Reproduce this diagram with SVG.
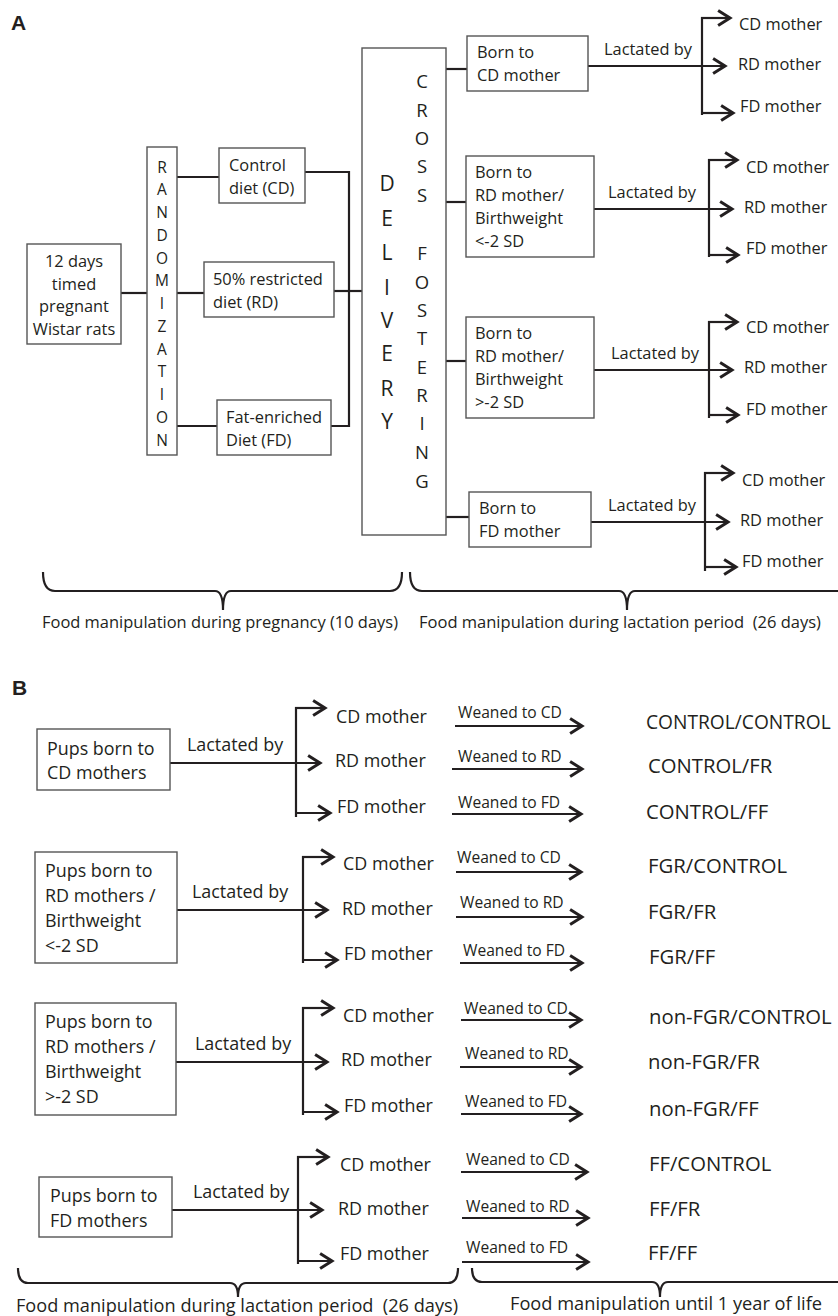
<svg xmlns="http://www.w3.org/2000/svg" width="838" height="1316" viewBox="0 0 838 1316">
<defs>
<marker id="ah" markerUnits="userSpaceOnUse" markerWidth="20" markerHeight="20" refX="0" refY="0" orient="auto" overflow="visible" viewBox="-12 -8 14 16">
<path d="M-9.5,-6 L0,0 L-9.5,6" fill="none" stroke="#231f20" stroke-width="2.4" stroke-linejoin="miter"/>
</marker>
<style>
.bx{fill:#fff;stroke:#555;stroke-width:1.4}
.ln{fill:none;stroke:#231f20;stroke-width:2.2}
.ar{fill:none;stroke:#231f20;stroke-width:2.2;marker-end:url(#ah)}
.br{fill:none;stroke:#231f20;stroke-width:2.2}
text{font-family:"Open Sans","Liberation Sans",sans-serif;fill:#231f20}
.a{font-size:16.4px}
.b{font-size:17.9px}
.w{font-size:15.6px}
.r{font-size:20.3px}
.lt{font-family:"Liberation Sans",Arial,sans-serif;font-weight:bold;font-size:21px}
.v1{font-size:15.5px;text-anchor:middle}
.v2{font-size:21px;text-anchor:middle}
.v3{font-size:18.5px;text-anchor:middle}
.c{text-anchor:middle}
</style>
</defs>

<text class="lt" x="11" y="30">A</text>
<text class="lt" x="12" y="695">B</text>

<g id="connectors">
<!-- Panel A left -->
<path class="ln" d="M121,293 H147"/>
<path class="ln" d="M177,177 H219"/>
<path class="ln" d="M177,293 H204"/>
<path class="ln" d="M177,426 H217"/>
<path class="ln" d="M305,172 H349 V426 H331"/>
<path class="ln" d="M334,291 H362"/>
<!-- delivery to born boxes -->
<path class="ln" d="M446,69 H467"/>
<path class="ln" d="M446,202 H466"/>
<path class="ln" d="M446,361 H466"/>
<path class="ln" d="M446,517 H469"/>
<!-- A1 -->
<path class="ln" d="M702,17 V115"/>
<path class="ar" d="M701,18 H730"/>
<path class="ar" d="M588,66 H725"/>
<path class="ar" d="M701,113 H733"/>
<!-- A2 -->
<path class="ln" d="M709,159 V257"/>
<path class="ar" d="M708,160 H737"/>
<path class="ar" d="M594,209 H732"/>
<path class="ar" d="M708,255 H738"/>
<!-- A3 -->
<path class="ln" d="M709,321 V418"/>
<path class="ar" d="M708,322 H737"/>
<path class="ar" d="M594,370 H732"/>
<path class="ar" d="M708,415 H738"/>
<!-- A4 -->
<path class="ln" d="M705,472 V571"/>
<path class="ar" d="M704,473 H733"/>
<path class="ar" d="M591,522 H728"/>
<path class="ar" d="M704,567 H736"/>
<!-- Braces A -->
<path class="br" d="M43,572 Q43,591 55,591 H215 Q223,591 223,610 Q223,591 231,591 H390 Q402,591 402,572"/>
<path class="br" d="M410,572 Q410,591 422,591 H619 Q627,591 627,610 Q627,591 635,591 H845"/>

<!-- Panel B1 -->
<path class="ln" d="M296,707 V817"/>
<path class="ar" d="M295,708 H325"/>
<path class="ar" d="M170,763 H320"/>
<path class="ar" d="M295,813 H330"/>
<path class="ar" d="M455,726 H582"/>
<path class="ar" d="M452,769 H582"/>
<path class="ar" d="M452,814 H581"/>
<!-- B2 -->
<path class="ln" d="M303,856 V963"/>
<path class="ar" d="M302,857 H333"/>
<path class="ar" d="M177,910 H327"/>
<path class="ar" d="M302,960 H337"/>
<path class="ar" d="M456,872 H581"/>
<path class="ar" d="M456,917 H582"/>
<path class="ar" d="M460,963 H582"/>
<!-- B3 -->
<path class="ln" d="M303,1007 V1115"/>
<path class="ar" d="M302,1008 H333"/>
<path class="ar" d="M176,1062 H327"/>
<path class="ar" d="M302,1112 H337"/>
<path class="ar" d="M461,1020 H581"/>
<path class="ar" d="M460,1067 H581"/>
<path class="ar" d="M461,1114 H581"/>
<!-- B4 -->
<path class="ln" d="M298,1156 V1264"/>
<path class="ar" d="M297,1157 H328"/>
<path class="ar" d="M172,1210 H322"/>
<path class="ar" d="M297,1261 H332"/>
<path class="ar" d="M461,1172 H587"/>
<path class="ar" d="M462,1218 H588"/>
<path class="ar" d="M462,1262 H588"/>
<!-- Braces B -->
<path class="br" d="M18,1268 Q18,1283 28,1283 H230 Q238,1283 238,1297 Q238,1283 246,1283 H448 Q458,1283 458,1268"/>
<path class="br" d="M472,1268 Q472,1282 482,1282 H652 Q660,1282 660,1297 Q660,1282 668,1282 H845"/>
</g>

<!-- Panel A nodes -->
<g id="pregnant">
<rect class="bx" x="27" y="244" width="94" height="100"/>
<text class="a c" x="74" y="267">12 days</text>
<text class="a c" x="74" y="290">timed</text>
<text class="a c" x="74" y="312">pregnant</text>
<text class="a c" x="74" y="335">Wistar rats</text>
</g>
<g id="randomization">
<rect class="bx" x="147" y="147" width="30" height="308"/>
<text class="v1" x="162"><tspan x="162" y="172.5">R</tspan><tspan x="162" y="195.3">A</tspan><tspan x="162" y="218">N</tspan><tspan x="162" y="240.8">D</tspan><tspan x="162" y="263.5">O</tspan><tspan x="162" y="286.3">M</tspan><tspan x="162" y="309">I</tspan><tspan x="162" y="331.8">Z</tspan><tspan x="162" y="354.5">A</tspan><tspan x="162" y="377.3">T</tspan><tspan x="162" y="400">I</tspan><tspan x="162" y="422.8">O</tspan><tspan x="162" y="445.5">N</tspan></text>
</g>
<g id="control-diet">
<rect class="bx" x="219" y="148" width="86" height="55"/>
<text class="a" x="229" y="171">Control</text>
<text class="a" x="229" y="194">diet (CD)</text>
</g>
<g id="restricted-diet">
<rect class="bx" x="204" y="262" width="130" height="55"/>
<text class="a" x="213" y="285">50% restricted</text>
<text class="a" x="213" y="308">diet (RD)</text>
</g>
<g id="fat-diet">
<rect class="bx" x="217" y="400" width="114" height="55"/>
<text class="a" x="226" y="423">Fat-enriched</text>
<text class="a" x="226" y="446">Diet (FD)</text>
</g>
<g id="delivery">
<rect class="bx" x="362" y="48" width="84" height="487"/>
<text class="v2"><tspan x="387" y="190.5">D</tspan><tspan x="387" y="225.5">E</tspan><tspan x="387" y="259.5">L</tspan><tspan x="387" y="294.5">I</tspan><tspan x="387" y="327.5">V</tspan><tspan x="387" y="360.5">E</tspan><tspan x="387" y="395.5">R</tspan><tspan x="387" y="429">Y</tspan></text>
<text class="v3"><tspan x="422" y="87.6">C</tspan><tspan x="422" y="116.6">R</tspan><tspan x="422" y="144.6">O</tspan><tspan x="422" y="172.6">S</tspan><tspan x="422" y="201.6">S</tspan><tspan x="422" y="259.6">F</tspan><tspan x="422" y="288.6">O</tspan><tspan x="422" y="316.6">S</tspan><tspan x="422" y="344.6">T</tspan><tspan x="422" y="373.6">E</tspan><tspan x="422" y="401.6">R</tspan><tspan x="422" y="429.6">I</tspan><tspan x="422" y="458.6">N</tspan><tspan x="422" y="487.6">G</tspan></text>
</g>
<g id="born-cd">
<rect class="bx" x="467" y="36" width="121" height="55"/>
<text class="a" x="477" y="58">Born to</text>
<text class="a" x="477" y="81">CD mother</text>
</g>
<g id="born-rd-low">
<rect class="bx" x="466" y="156" width="128" height="101"/>
<text class="a" x="475" y="178">Born to</text>
<text class="a" x="475" y="201">RD mother/</text>
<text class="a" x="475" y="224">Birthweight</text>
<text class="a" x="475" y="247">&lt;-2 SD</text>
</g>
<g id="born-rd-high">
<rect class="bx" x="466" y="317" width="128" height="101"/>
<text class="a" x="475" y="339">Born to</text>
<text class="a" x="475" y="362">RD mother/</text>
<text class="a" x="475" y="385">Birthweight</text>
<text class="a" x="475" y="408">&gt;-2 SD</text>
</g>
<g id="born-fd">
<rect class="bx" x="469" y="492" width="122" height="55"/>
<text class="a" x="479" y="514">Born to</text>
<text class="a" x="479" y="537">FD mother</text>
</g>
<g id="labels-a">
<text class="a" x="604" y="55">Lactated by</text>
<text class="a" x="739" y="30">CD mother</text>
<text class="a" x="738" y="70">RD mother</text>
<text class="a" x="740" y="112">FD mother</text>
<text class="a" x="608" y="198">Lactated by</text>
<text class="a" x="746" y="173">CD mother</text>
<text class="a" x="744" y="213">RD mother</text>
<text class="a" x="746" y="254">FD mother</text>
<text class="a" x="611" y="359">Lactated by</text>
<text class="a" x="746" y="333">CD mother</text>
<text class="a" x="744" y="373">RD mother</text>
<text class="a" x="746" y="415">FD mother</text>
<text class="a" x="608" y="511">Lactated by</text>
<text class="a" x="742" y="486">CD mother</text>
<text class="a" x="740" y="526">RD mother</text>
<text class="a" x="742" y="567">FD mother</text>
<text class="a" x="42" y="628" textLength="356" lengthAdjust="spacingAndGlyphs">Food manipulation during pregnancy (10 days)</text>
<text class="a" x="419" y="628" textLength="402" lengthAdjust="spacingAndGlyphs" xml:space="preserve">Food manipulation during lactation period  (26 days)</text>
</g>

<!-- Panel B nodes -->
<g id="pups-cd">
<rect class="bx" x="37" y="729" width="133" height="61"/>
<text class="b" x="47" y="755">Pups born to</text>
<text class="b" x="47" y="779">CD mothers</text>
</g>
<g id="pups-rd-low">
<rect class="bx" x="35" y="852" width="142" height="111"/>
<text class="b" x="45" y="877">Pups born to</text>
<text class="b" x="45" y="902">RD mothers /</text>
<text class="b" x="45" y="927">Birthweight</text>
<text class="b" x="45" y="952">&lt;-2 SD</text>
</g>
<g id="pups-rd-high">
<rect class="bx" x="35" y="1003" width="141" height="112"/>
<text class="b" x="45" y="1028">Pups born to</text>
<text class="b" x="45" y="1053">RD mothers /</text>
<text class="b" x="45" y="1078">Birthweight</text>
<text class="b" x="45" y="1103">&gt;-2 SD</text>
</g>
<g id="pups-fd">
<rect class="bx" x="39" y="1177" width="133" height="60"/>
<text class="b" x="50" y="1202">Pups born to</text>
<text class="b" x="50" y="1227">FD mothers</text>
</g>
<g id="labels-b">
<text class="b" x="187" y="751">Lactated by</text>
<text class="b" x="336" y="723">CD mother</text>
<text class="b" x="335" y="767">RD mother</text>
<text class="b" x="337" y="813">FD mother</text>
<text class="w" x="458" y="718">Weaned to CD</text>
<text class="w" x="458" y="762">Weaned to RD</text>
<text class="w" x="458" y="808">Weaned to FD</text>
<text class="r" x="646" y="729" style="font-size:19.2px">CONTROL/CONTROL</text>
<text class="r" x="648" y="773">CONTROL/FR</text>
<text class="r" x="646" y="819">CONTROL/FF</text>

<text class="b" x="192" y="898">Lactated by</text>
<text class="b" x="343" y="870">CD mother</text>
<text class="b" x="342" y="915">RD mother</text>
<text class="b" x="344" y="960">FD mother</text>
<text class="w" x="457" y="863">Weaned to CD</text>
<text class="w" x="460" y="908">Weaned to RD</text>
<text class="w" x="463" y="956">Weaned to FD</text>
<text class="r" x="648" y="873">FGR/CONTROL</text>
<text class="r" x="648" y="919">FGR/FR</text>
<text class="r" x="649" y="964">FGR/FF</text>

<text class="b" x="195" y="1050">Lactated by</text>
<text class="b" x="343" y="1022">CD mother</text>
<text class="b" x="341" y="1066">RD mother</text>
<text class="b" x="344" y="1112">FD mother</text>
<text class="w" x="464" y="1014">Weaned to CD</text>
<text class="w" x="465" y="1059">Weaned to RD</text>
<text class="w" x="465" y="1107">Weaned to FD</text>
<text class="r" x="649" y="1024">non-FGR/CONTROL</text>
<text class="r" x="648" y="1069">non-FGR/FR</text>
<text class="r" x="649" y="1116">non-FGR/FF</text>

<text class="b" x="193" y="1198">Lactated by</text>
<text class="b" x="340" y="1171">CD mother</text>
<text class="b" x="338" y="1215">RD mother</text>
<text class="b" x="340" y="1260">FD mother</text>
<text class="w" x="466" y="1165">Weaned to CD</text>
<text class="w" x="466" y="1212">Weaned to RD</text>
<text class="w" x="466" y="1253">Weaned to FD</text>
<text class="r" x="649" y="1171">FF/CONTROL</text>
<text class="r" x="649" y="1216">FF/FR</text>
<text class="r" x="648" y="1260">FF/FF</text>

<text class="b" x="16" y="1312" textLength="442" lengthAdjust="spacingAndGlyphs" xml:space="preserve">Food manipulation during lactation period  (26 days)</text>
<text class="b" x="510" y="1310" textLength="312" lengthAdjust="spacingAndGlyphs">Food manipulation until 1 year of life</text>
</g>
</svg>
